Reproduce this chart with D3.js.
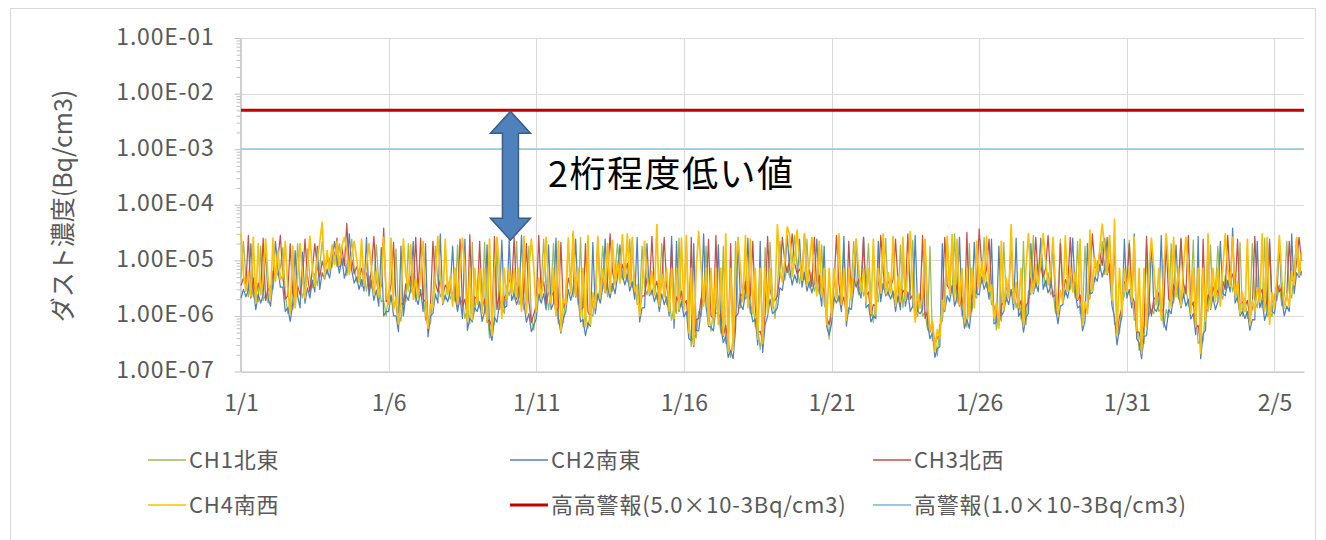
<!DOCTYPE html>
<html><head><meta charset="utf-8">
<script src="https://cdn.jsdelivr.net/npm/d3@7"></script>
<style>
body{margin:0;background:#fff;}
svg{display:block;}
text{font-family:"Noto Sans CJK JP","Noto Sans",sans-serif;}
</style>
</head><body>
<svg id="c" width="1326" height="540"></svg>
<script>
// ---- data (values in units of 1e-6 Bq/cm3, one point every 2 hours from 1/1 0:00) ----
const UNIT = 1e-6;
const STEP_HOURS = 2;
const ch1 = [
4.9,22,4.8,2.2,3.8,2.2,2.9,1.8,18,1.9,2.4,1.7,
3.5,3,7.2,5.3,7.5,17,2.6,1.1,2,1.3,2.4,20,
3.4,2.1,3.6,16,4.8,3.2,5.9,3.5,7.7,22,8.4,5.6,
11,7.5,14,7.7,20,8,10.4,5.3,9.8,24,7.2,4.1,
7,3.4,6,2.8,5.3,3.2,4.2,19,3.9,1.8,1.9,1,
2.8,1.8,2.2,16,1.2,0.8,2.1,1.8,20,2.6,3.4,1.8,
3.6,2.3,2.6,0.84,1,0.72,2.3,18,4.2,2.2,2.9,2,
4.2,2,2.6,1.8,19,1.6,2,0.9,1.4,0.72,21,1.2,
2.8,1.4,1.8,21,1.4,0.4,0.78,0.7,17,1.3,1.6,1.1,
3.5,2.3,4.2,2,22,1.6,2.1,1.3,2,18,0.96,0.56,
2.1,1.9,3.6,24,3,1.3,2.9,20,1.7,0.72,0.9,0.75,
2.8,19,4.2,2.2,3.9,1.6,26,0.63,1.1,0.6,1.2,0.98,
2.5,1.9,3.6,18,4.5,2.2,4.6,2.8,6.3,20,6.6,4.5,
8.4,4.1,24,3.2,4.5,1.6,1.7,18,3.5,2.4,4.2,2.4,
4.2,2,2.6,20,3.6,1.6,2.1,0.84,1.5,1.1,25,1.5,
2.2,22,0.84,0.28,0.5,0.4,1.2,0.98,2.7,18,1.2,0.53,
1.3,1.1,1.2,0.49,18,0.32,0.39,0.18,0.42,22,1.4,1.4,
3.1,2,2.4,1.1,1.8,0.64,0.65,0.25,0.56,17,1.8,21,
2.5,0.9,3,22,6.8,4.4,7.8,4.9,9.1,28,7.2,3.8,
7.7,4.5,24,3.2,6,2.8,3.9,2.5,19,1.6,1.2,0.38,
1.7,1.7,3.6,1.8,2.7,19,1.4,1.1,3.4,22,4.2,2.4,
4.9,2.3,3.1,20,1.8,0.76,2,1.8,4.5,3,25,2.3,
4.6,2.1,2.6,1.8,19,1.4,3.3,2,3.1,23,1.3,0.98,
2.5,0.98,1.2,0.56,18,0.36,0.39,0.19,0.7,0.8,2.2,24,
4.2,2.6,30,1.7,2.7,1,1.3,0.63,20,1.2,2.4,2.1,
5.6,3.8,26,3.2,4.5,1.6,1.6,0.56,1.1,0.8,21,1.8,
3.6,2.3,2.9,1.4,2.3,0.88,22,0.7,2.8,2.4,28,3.2,
6.3,20,6.6,3.4,6,2.4,2.9,1.1,1.8,24,2.9,2.4,
4.9,3,4.6,2.1,22,1.1,1.2,18,2,2,4.8,4.1,
9.8,6.4,22,5.6,9.8,27,3.3,0.7,0.77,0.48,1.8,2.3,
4.9,23,3,0.84,0.9,0.24,0.36,0.32,19,1,1.3,1.1,
2.8,1.2,1.4,0.63,1.3,0.96,20,1.7,3.9,2,24,2.1,
3.5,1.5,1.9,23,1.1,0.32,0.36,0.35,1.4,1.2,19,1.8,
3.1,18,2.6,2,5.3,3.2,5.9,2.7,4.2,1.8,21,1,
2.1,0.9,1.2,20,2,1.4,3.1,1.4,25,0.96,1.2,0.98,
2.5,1.9,3.6,1.5,2.4,22,2.6,2.1,6.3,26,9,5.3
];
const ch2 = [
2.1,3,2.2,2.9,20,3.1,1.3,2.5,1.7,2.4,16,2.1,
1.5,4,22,6.8,3.3,3.3,1.2,1.4,0.8,1.6,15,2.3,
1.4,14,1.7,3.2,2.1,4.4,2.7,18,3,6,4.6,6.8,
4.8,10,22,9.9,5.9,11,4.8,7.1,30,6.5,3.9,5,
3,4.5,2.8,26,2.3,4.4,1.9,2.9,1.5,17,1,1.2,
1.2,2.4,1,1,0.52,18,1,2.4,1.9,3.2,22,2.2,
1.6,3,1.2,20,0.42,1,1.1,2.5,1.7,30,1.6,2.3,
1.8,2.7,18,2.3,1.2,2.2,0.9,24,0.55,0.9,0.78,1.4,
1.2,1.8,0.8,1.2,19,0.55,0.36,0.95,0.77,1.6,23,1.4,
1.5,24,1.9,2.5,1.6,2.2,28,1.7,0.77,1.1,0.52,0.68,
0.9,2.5,1.7,2.5,1.3,19,1.3,1.7,25,0.9,0.49,0.9,
1.2,3,1.9,2.9,24,2.2,0.78,0.86,0.44,0.75,0.65,21,
1.1,2.5,1.7,3.2,24,3.1,2.1,3.8,2.5,5,19,5.4,
3.6,5.5,2.8,4.1,2,26,0.78,1.4,1.4,20,2.3,2.9,
1.8,2.6,1.2,2.5,1.6,2.2,1,27,0.6,22,1.2,1.8,
0.96,1.2,0.39,0.36,20,0.55,0.54,1.3,30,1.5,0.65,0.63,
0.54,1.4,19,0.63,0.33,0.44,0.18,0.24,0.17,0.6,26,1.6,
1.3,2.6,25,1.4,0.78,0.88,0.3,22,0.22,0.7,0.98,2,
1.1,1.2,1.4,3.2,2.9,6.1,28,6.7,3.6,5.5,3.9,24,
3.3,6,2.8,4.1,2.6,3.9,24,3.3,1.5,18,0.65,0.45,
0.72,2.2,1.7,2.3,1.2,27,0.66,1.4,1.3,3,24,2.9,
2.1,26,1.4,1.6,0.78,1,0.9,22,1.8,3.8,2.3,2.7,
2,2.8,1.2,2.3,1.3,20,1.5,2.7,1.2,1.5,28,1.2,
1.1,1.3,22,0.72,0.39,0.5,0.18,0.26,0.28,20,1.2,2.3,
1.8,3.5,1.5,2.2,26,1.4,0.6,0.86,0.6,1.5,21,2.5,
2.4,5,3,4.1,2,24,0.72,0.76,18,1,1.2,2.2,
1.6,3,1.3,25,0.98,1.2,0.51,0.95,1.1,20,2.5,3.8,
2.7,25,3,4.3,2.6,3.3,22,1.5,0.72,1.5,1.6,2.9,
2.1,4,25,2.7,1.4,1.5,0.54,0.81,20,2.5,2.6,5,
4.2,8.5,5,7.2,26,5.5,1.5,0.95,0.3,0.6,0.98,24,
2.1,3,1.4,30,0.39,0.33,0.17,0.43,0.44,1.3,22,1.4,
1.2,1.6,28,0.81,0.55,1.3,1.1,2.3,19,2.5,1.4,2.5,
1.5,2,0.88,1.1,0.46,27,0.17,0.48,0.55,21,1.3,2.2,
1.3,1.8,22,2.5,2.3,4.4,2.7,38,1.7,2.2,1,1.2,
0.9,1.2,0.55,0.86,0.85,22,1.4,1.9,0.83,1.2,24,1.2,
1.1,2.5,20,2,1,1.5,1.2,30,2.5,6,4.9,6.3
];
const ch3 = [
3.5,4.8,3.6,28,2.1,4.8,2.2,3.9,2.7,25,1.9,3.2,
2.5,6.4,5.4,11,28,5.1,2,2.3,20,2.6,1.9,3.5,
2.4,4.5,24,5.3,2.7,6.8,20,7.5,5,9.6,6.7,10.5,
8,16,10.8,25,7.7,17,8,46,6.3,10.4,5.7,7.7,
5,7.2,4.5,6,3,6.8,27,4.5,2.5,3.5,38,1.8,
2,3.8,21,1.7,0.7,1.7,1.6,3.8,3.2,5.1,2.7,26,
2.6,25,2,1.8,0.55,1.5,22,3.9,2.7,4.5,2.3,3.6,
3,4.3,2,3.8,1.5,24,1.5,2,0.9,29,1.1,2.2,
2,22,1.4,2,0.77,0.85,0.6,27,1.3,2.6,1.2,2.1,
2.5,4.8,3.2,26,2,3.4,1.6,2.7,20,1.8,0.76,1.1,
1.5,28,2.7,4.2,1.7,2.7,2.2,2.7,1.1,1.4,21,1.4,
2,4.8,3.2,30,2.2,3.4,1.3,1.4,20,1.2,0.95,1.8,
1.8,26,2.7,5.3,2.6,4.8,30,6,4.1,8,5.2,8.4,
6,8.8,4.5,22,2.6,3.4,1.3,2.3,2.3,4.8,3.3,27,
3,4.2,2,4.2,26,3.4,1.6,19,1,2.2,1.7,2.8,
1.6,1.9,0.63,26,0.28,0.85,0.9,2.1,1.7,2.4,24,1,
0.9,28,0.9,1.1,0.43,0.68,0.3,20,0.27,0.96,1.1,2.5,
2.2,4.2,1.8,2.4,22,1.4,0.5,0.53,0.36,1.1,27,3.1,
1.8,1.9,2.3,5.3,26,9.4,6,10.5,30,8.8,5.7,7,
5.5,30,4.5,6.8,3.4,26,3,5.3,2.5,3.2,0.95,0.7,
1.2,3.5,28,3.8,1.5,2.2,1.1,22,2.2,4.8,3.3,4.5,
3.5,26,2.3,2.7,1,1.6,1.5,3.8,28,6.1,3.3,4.2,
3.3,4.5,24,3.9,1.7,2.9,2.5,30,2,2.4,1,1.8,
1.8,28,0.9,1.2,0.51,0.77,0.3,0.41,0.45,1.6,26,3.5,
3,25,2.5,3.6,1.5,2.2,1,32,1,2.4,1.9,3.9,
37,8,5,6.8,24,3.4,1.2,1.2,0.68,1.6,1.7,3.4,
2.6,22,2.2,3,1.3,1.9,0.85,1.5,1.8,4.8,3.6,26,
4.5,8,5,7.2,28,5.1,2.2,2.4,1.2,20,2.3,4.5,
3.5,26,3.4,4.5,1.9,2.4,0.9,1.3,1.3,4,30,7.7,
7,13.6,8.1,25,5.5,8.5,2.5,20,0.5,0.96,1.4,4.2,
3.5,20,2.3,1.8,0.51,0.51,0.28,0.68,27,2.1,1,2.1,
2,2.6,1.1,1.4,22,2,1.8,3.6,2.5,4,25,3.9,
2.5,28,1.4,1.8,0.6,0.68,0.28,24,0.9,2.4,1.9,3.4,
2.2,2.9,2,4.2,3,28,4.5,5.7,2.7,24,1.5,1.8,
1.5,1.9,0.9,1.4,27,3.1,2.4,3,1.4,1.9,21,1.8,
1.8,4,2.7,3.3,1.4,2.4,22,4.5,4.1,9.6,26,9.8
];
const ch4 = [
30,5.7,2.8,6.4,2.3,26,1.7,20,2.4,4.6,24,4.6,
2,25,4.2,15,4.5,5.4,22,3.2,1.1,18,1.4,5,
20,5.3,2.1,7,27,7.2,3.4,10.5,21,48,4.9,15,
6.4,19,8.4,22,8.1,18,26,15.8,5.6,12.4,22,11,
4,24,3.5,8,20,7.2,2.4,6.3,2.2,4.2,26,2.6,
1.6,25,1.3,2.2,0.72,1.8,24,5.3,2.8,19,2,4.8,
2.1,5.7,22,2.4,0.6,1.6,1.4,5.5,27,5.3,1.7,24,
2.4,5.1,1.5,7.2,1.6,7.2,25,7.2,0.8,7.2,0.85,7.2,
1.6,7.2,1.1,7.2,0.8,24,0.45,7.2,26,7.2,0.9,7.2,
2,7.2,2.5,7.2,2.2,7.2,1.2,27,1.1,7.2,24,7.2,
1.2,4.8,2.1,5.6,26,2.9,1.7,7.2,1,22,0.53,2,
1.6,25,2.5,33,2.3,7.2,1,7.2,0.64,28,0.7,2.6,
1.4,27,2.1,7,2.7,20,2.6,23,3.6,9.5,3.9,29,
4.8,30,3.5,26,2.7,3.6,1,3.2,22,5.7,2.5,6.4,
2.4,44,1.5,5.6,2.2,7.2,1.2,7.2,0.9,7.2,1.3,25,
1.3,28,0.5,7.2,0.3,7.2,33,7.2,1.5,7.2,0.7,7.2,
0.72,7.2,0.7,7.2,0.45,30,0.23,7.2,0.24,7.2,25,7.2,
1.8,28,1.4,24,1.1,7.2,0.38,7.2,0.32,7.2,1.1,7.2,
1.4,2.3,44,7,4.1,9.9,40,28,5.2,10.5,35,10,
4.4,30,3.5,9,26,6.3,2.3,22,2.2,7.2,0.7,7.2,
0.96,7.2,2.1,30,1.6,7.2,0.83,7.2,1.9,7.2,24,7.2,
2.8,7.2,1.8,7.2,1.1,24,1.1,7.2,2.6,30,2.5,6,
2.6,27,1.5,5.2,1.8,26,1.9,5.9,33,2.9,0.77,2.6,
1.4,2.5,24,1.6,0.54,0.81,0.23,0.57,0.4,1.9,1.3,27,
2.4,29,2,24,1.6,7.2,0.75,7.2,0.88,7.2,1.4,22,
3.2,9.5,3.9,27,2.7,3.6,0.9,1.7,0.6,22,1.3,4.8,
2.1,44,1.7,4,1.4,7.2,0.64,7.2,30,5.7,2.7,8.4,
3.6,9.5,30,9.6,3.6,5.4,26,3.4,1,2.9,1.7,28,
2.8,7.6,2.7,6,2,24,0.68,1.8,1.1,35,2.8,11,
5.6,16,45,16,5.9,28,1.9,55,0.44,7.2,1.1,7.2,
2.8,7.2,1.8,26,0.54,7.2,0.21,7.2,0.64,7.2,25,7.2,
1.6,7.2,0.84,7.2,30,7.2,1.4,26,2.2,7.2,1.5,7.2,
26,7.2,1.1,7.2,0.63,7.2,0.21,7.2,0.8,30,1.4,7.2,
1.8,7.2,1.5,7.2,30,7.2,3.4,26,2.4,4.2,1.1,2.6,
1.2,24,0.7,1.9,1.2,3.2,1.8,30,1.2,26,0.7,2.6,
1.4,4.8,28,4.4,1.4,2.5,1.5,6.3,3.6,25,5.3,14
];
const alarmHighHigh = 5.0e-3;
const alarmHigh = 1.0e-3;
const seriesNames = ["CH1北東","CH2南東","CH3北西","CH4南西","高高警報(5.0×10-3Bq/cm3)","高警報(1.0×10-3Bq/cm3)"];
const seriesColors = ["#9BBB59","#4F81BD","#C0504D","#FFC000","#C00000","#93CDDD"];
const xTickLabels = ["1/1","1/6","1/11","1/16","1/21","1/26","1/31","2/5"];
const yTickValues = [1e-1,1e-2,1e-3,1e-4,1e-5,1e-6,1e-7];
const yTickLabels = ["1.00E-01","1.00E-02","1.00E-03","1.00E-04","1.00E-05","1.00E-06","1.00E-07"];
const yTitle = "ダスト濃度(Bq/cm3)";
const noteText = "2桁程度低い値";

// ---- layout ----
const YEAR = 2021;
const P = {left:241, right:1304, top:38, bottom:371.5};
const svg = d3.select("#c");
const dateOf = lbl => { const [m,d] = lbl.split("/").map(Number); return new Date(Date.UTC(YEAR, m-1, d)); };
const x = d3.scaleUtc().domain([new Date(Date.UTC(YEAR,0,1)), new Date(Date.UTC(YEAR,1,6))]).range([P.left, P.right]);
const y = d3.scaleLog().domain([1e-7,1e-1]).range([P.bottom, P.top]);
const tOf = i => new Date(Date.UTC(YEAR,0,1) + i*STEP_HOURS*3600e3);

// chart border
svg.append("rect").attr("x",10.5).attr("y",8.5).attr("width",1305).attr("height",545)
  .attr("fill","none").attr("stroke","#D9D9D9");

// gridlines
svg.append("g").selectAll("line").data(yTickValues).join("line")
  .attr("x1",P.left).attr("x2",P.right)
  .attr("y1",d=>Math.round(y(d))+0.5).attr("y2",d=>Math.round(y(d))+0.5)
  .attr("stroke","#D9D9D9").attr("stroke-width",1);
const xTickDates = xTickLabels.map(dateOf);
svg.append("g").selectAll("line").data(xTickDates.slice(1)).join("line")
  .attr("x1",d=>Math.round(x(d))+0.5).attr("x2",d=>Math.round(x(d))+0.5)
  .attr("y1",P.top).attr("y2",P.bottom)
  .attr("stroke","#D9D9D9").attr("stroke-width",1);

// y axis with minor ticks
const minor = [];
for (let e=-7; e<-1; e++) for (let k=2; k<=9; k++) minor.push(k*Math.pow(10,e));
const yMinor = svg.append("g").attr("transform",`translate(${P.left-0.5},0)`)
  .call(d3.axisLeft(y).tickValues(minor).tickFormat("").tickSize(4).tickSizeOuter(0));
const yAxis = svg.append("g").attr("transform",`translate(${P.left-0.5},0)`)
  .call(d3.axisLeft(y).tickValues(yTickValues).tickFormat((d,i)=>yTickLabels[i]).tickSize(6).tickPadding(20).tickSizeOuter(0));
[yMinor,yAxis].forEach(g=>{g.selectAll("path,line").attr("stroke","#BFBFBF");});
yAxis.selectAll("text").attr("fill","#595959").attr("font-size","23px").attr("dy",null)
  .attr("y",6).attr("letter-spacing","0.8px");

// x axis
const xAxis = svg.append("g").attr("transform",`translate(0,${P.bottom})`)
  .call(d3.axisBottom(x).tickValues(xTickDates).tickFormat((d,i)=>xTickLabels[i]).tickSize(0).tickSizeOuter(0));
xAxis.select("path").attr("stroke","#BFBFBF");
xAxis.selectAll("text").attr("fill","#595959").attr("font-size","23px").attr("dy",null).attr("y",39.5);

// y title
svg.append("text").attr("transform","translate(72,206) rotate(-90)").attr("text-anchor","middle")
  .attr("fill","#595959").attr("font-size","25px").text(yTitle);

// series lines
const line = d3.line().x((d,i)=>x(tOf(i))).y(d=>y(d*UNIT));
const seriesWidth = [1.25,1.25,1.25,1.7];
[ch1,ch2,ch3,ch4].forEach((s,k)=>{
  svg.append("path").datum(s).attr("d",line).attr("fill","none")
    .attr("stroke",seriesColors[k]).attr("stroke-width",seriesWidth[k]).attr("stroke-linejoin","round");
});
// alarm lines
[[alarmHighHigh,4,3],[alarmHigh,5,1.8]].forEach(([v,k,w])=>{
  svg.append("path").datum([new Date(Date.UTC(YEAR,0,1)), new Date(Date.UTC(YEAR,1,6))])
    .attr("d",d3.line().x(d=>x(d)).y(()=>y(v))).attr("fill","none")
    .attr("stroke",seriesColors[k]).attr("stroke-width",w);
});

// annotation arrow
const arrowDate = new Date(Date.UTC(YEAR,0,10,3));
const ax = x(arrowDate), aTop = y(alarmHighHigh)+1, aBot = y(2.3e-5);
const hw = 20, sw = 8, hh = 22;
svg.append("path").attr("d",
  `M${ax},${aTop} L${ax+hw},${aTop+hh} L${ax+sw},${aTop+hh} L${ax+sw},${aBot-hh} L${ax+hw},${aBot-hh} L${ax},${aBot} L${ax-hw},${aBot-hh} L${ax-sw},${aBot-hh} L${ax-sw},${aTop+hh} L${ax-hw},${aTop+hh} Z`)
  .attr("fill","#4F81BD").attr("stroke","#385D8A").attr("stroke-width",1.5);
svg.append("text").attr("x",548).attr("y",187).attr("font-size","36px").attr("fill","#000")
  .attr("letter-spacing","1.5px").text(noteText);

// legend
const legendPos = [[148,460],[510,460],[873,460],[148,505],[510,505],[873,505]];
const legendW = [1.5,1.5,1.5,1.5,3,2];
seriesNames.forEach((n,i)=>{
  const [lx,ly] = legendPos[i];
  svg.append("line").attr("x1",lx).attr("x2",lx+38).attr("y1",ly).attr("y2",ly)
    .attr("stroke",seriesColors[i]).attr("stroke-width",legendW[i]);
  svg.append("text").attr("x",lx+41).attr("y",ly).attr("dy","0.35em")
    .attr("fill","#595959").attr("font-size","22px").attr("letter-spacing","0.8px").text(n);
});
</script>
</body></html>
